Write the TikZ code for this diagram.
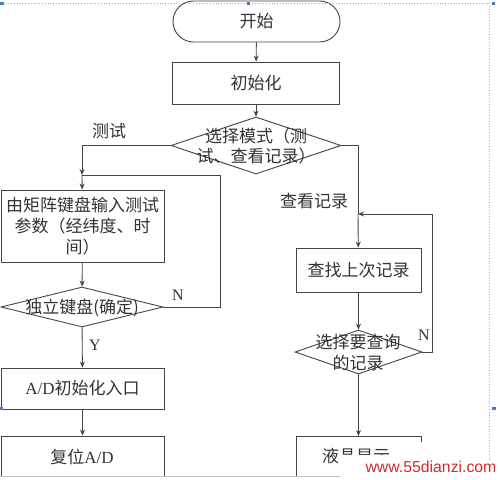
\documentclass[tikz,border=0pt]{standalone}
\usepackage{fontspec}
\setmainfont{Liberation Serif}
\newfontfamily\cjk{Noto Sans CJK SC}
\newfontfamily\wmfont{Liberation Sans}
\usetikzlibrary{arrows.meta,shapes.geometric}
\definecolor{ln}{HTML}{454545}
\definecolor{tx}{HTML}{333333}
\definecolor{selb}{HTML}{4A7EBB}
\definecolor{wm}{HTML}{D42A2A}
\begin{document}
\begin{tikzpicture}[x=1pt,y=-1pt,
  line/.style={draw=ln, line width=0.9pt},
  arr/.style={line,-{Stealth[length=6pt,width=5pt]}},
  box/.style={line, rectangle, inner sep=0pt, align=center, text=tx,
    font=\cjk\fontsize{17}{21}\selectfont},
  term/.style={box, rounded corners=20.5pt},
  dia/.style={line, diamond, inner sep=0pt},
  txt/.style={inner sep=0pt, align=center, text=tx, font=\cjk\fontsize{17}{20.5}\selectfont},
  lbl/.style={inner sep=0pt, text=tx, font=\cjk\fontsize{17}{18}\selectfont},
  latin/.style={inner sep=0pt, text=tx, font=\rmfamily\fontsize{16}{18}\selectfont}
]
\useasboundingbox (0,0) rectangle (500,479);
\fill[white] (0,0) rectangle (500,479);

\begin{scope}
\clip (0,0) rectangle (500,475.5);
% main column
\node[term, minimum width=167pt, minimum height=41pt] (start) at (256.5,21.5) {开始};
\node[box, minimum width=167pt, minimum height=42pt] (init) at (256,83) {初始化};
\node[dia, minimum width=170pt, minimum height=57pt] (mode) at (256,145.5) {};
\node[txt] (modet) at (256,146) {选择模式（测\\试、查看记录）};

% left column
\coordinate (j1) at (82,175);
\node[box, minimum width=163pt, minimum height=72pt] (input) at (82.5,226) {由矩阵键盘输入测试\\参数（经纬度、时\\间）};
\node[dia, minimum width=162pt, minimum height=40pt] (key) at (82,307) {};
\node[txt] (keyt) at (82,308) {独立键盘(确定)};
\node[box, minimum width=163pt, minimum height=41pt] (adinit) at (82.5,388.5) {{\rmfamily A/D}初始化入口};
\node[box, minimum width=163pt, minimum height=60pt] (reset) at (82.5,466) {};
\node[txt] (resett) at (82,457) {复位{\rmfamily A/D}};

% right column
\coordinate (j2) at (358,214);
\node[box, minimum width=125pt, minimum height=44pt] (find) at (358.5,270) {查找上次记录};
\node[dia, minimum width=127pt, minimum height=44pt] (sel) at (358.5,352) {};
\node[txt] (selt) at (358,352.5) {选择要查询\\的记录};
\begin{scope}
\clip (300,440) -- (420,440) -- (420,454) -- (340,454) -- (340,475) -- (300,475) -- cycle;
\node[txt, anchor=west] (lcd) at (322,456) {液晶显示};
\end{scope}
\end{scope}
\coordinate (lcdl) at (296,476);
\coordinate (lcdtl) at (296,436);
\coordinate (lcdtr) at (421,436);
\coordinate (lcdr) at (421,442);
\draw[line] (lcdl) -- (lcdtl) -- (lcdtr) -- (lcdr);

% connectors
\draw[arr] (start) -- (init);
\draw[arr] (init) -- (mode);
\draw[arr] (mode.west) -| (j1);
\draw[arr] (j1) -- (input);
\draw[arr] (input) -- (key);
\draw[line] (key.east) -- (220,307) |- (j1);
\draw[arr] (key) -- (adinit);
\draw[arr] (adinit) -- (reset);
\draw[line] (mode.east) -| (j2);
\draw[arr] (j2) -- (find);
\draw[arr] (find) -- (sel);
\draw[arr] (sel.east) -- (432,352) |- (j2);
\draw[arr] (sel) -- (lcdtl -| sel);

% labels
\node[lbl] (ltest) at (109,131) {测试};
\node[lbl] (lview) at (314,201) {查看记录};
\node[latin] (ln1) at (178,295) {N};
\node[latin] (ly) at (95,345) {Y};
\node[latin] (ln2) at (424,335) {N};

% window frame and watermark
\draw[gray!50, line width=1.2pt] (0,476.5) -- (342,476.5);
\fill[white] (340,455) rectangle (500,479);
\node[inner sep=0pt, text=wm, font=\wmfont\fontsize{15.8}{18}\selectfont] (wmark) at (431,467) {www.55dianzi.com};
\draw[selb!60, dotted, line width=0.8pt] (0,3) -- (490,3);
\draw[selb!60, dotted, line width=0.8pt] (489,3) -- (489,460);
\fill[selb] (0,1.5) rectangle (3.5,5);
\fill[selb] (246.5,1.5) rectangle (250,5);
\fill[selb] (491.5,1.5) rectangle (495,5);
\fill[selb] (0,406.5) rectangle (3,410);
\fill[selb] (492,406.5) rectangle (495.5,410);
\end{tikzpicture}
\end{document}
